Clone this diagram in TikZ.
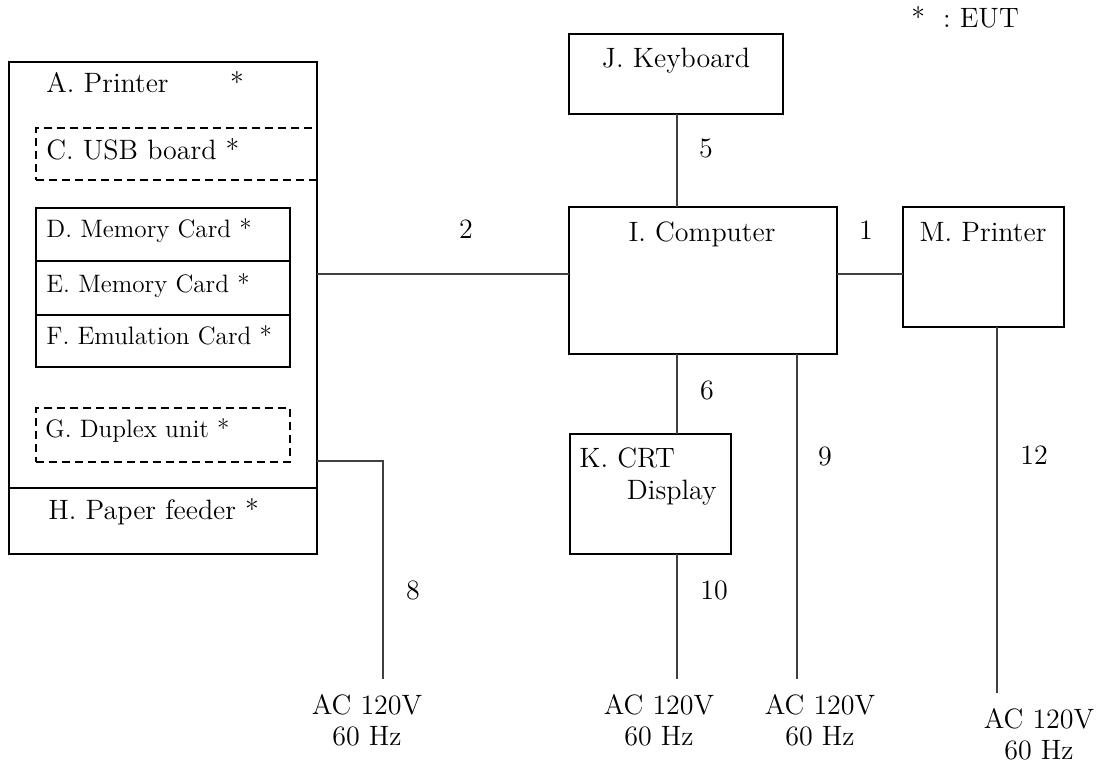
\documentclass[tikz,border=0pt]{standalone}
\begin{document}
\begin{tikzpicture}[x=0.5pt,y=-0.5pt,
  box/.style={draw, line width=1.25pt, inner sep=0pt, outer sep=0pt},
  dbox/.style={draw, line width=1.25pt, dash pattern=on 4pt off 2.5pt, inner sep=0pt, outer sep=0pt},
  txt/.style={inner sep=0pt, font=\fontsize{14}{15.5}\selectfont},
  stxt/.style={inner sep=0pt, font=\fontsize{12.6}{14}\selectfont},
  actxt/.style={inner sep=0pt, align=center, font=\fontsize{14}{15.5}\selectfont},
  wire/.style={line width=0.6pt, black!75}]
\useasboundingbox (0,0) rectangle (1105,763);

% boxes
\node[box, minimum width=154pt, minimum height=213pt] (A) at (163,275) {};
\node[box, minimum width=154pt, minimum height=33pt] (H) at (163,521) {};
\node[dbox, minimum width=140.5pt, minimum height=26pt] (C) at (176.5,154) {};
\node[box, minimum width=127pt, minimum height=26.5pt] (D) at (163,234.5) {};
\node[box, minimum width=127pt, minimum height=27pt] (E) at (163,288) {};
\node[box, minimum width=127pt, minimum height=26pt] (F) at (163,341) {};
\node[dbox, minimum width=127pt, minimum height=27pt] (G) at (163,435) {};
\node[box, minimum width=107pt, minimum height=40pt] (J) at (676,74) {};
\node[box, minimum width=134pt, minimum height=73.5pt] (I) at (703,280.5) {};
\node[box, minimum width=80.5pt, minimum height=60pt] (M) at (983.5,267) {};
\node[box, minimum width=80.5pt, minimum height=60pt] (K) at (650.5,494) {};

% box texts
\node[txt, anchor=base west] (tA) at (46,93) {A. Printer};
\node[txt, anchor=base] (tAs) at (237,93) {*};
\node[txt, anchor=base west] (tC) at (46,160) {C. USB board *};
\node[stxt, anchor=base west] (tD) at (46,238) {D. Memory Card *};
\node[stxt, anchor=base west] (tE) at (46,293) {E. Memory Card *};
\node[stxt, anchor=base west] (tF) at (46,345) {F. Emulation Card *};
\node[stxt, anchor=base west] (tG) at (45,438) {G. Duplex unit *};
\node[txt, anchor=base west] (tH) at (48,520) {H. Paper feeder *};
\node[txt, anchor=base] (tJ) at (676,68) {J. Keyboard};
\node[txt, anchor=base] (tI) at (702,242) {I. Computer};
\node[txt, anchor=base] (tM) at (983,242) {M. Printer};
\node[txt, anchor=base west] (tK1) at (579,468) {K. CRT};
\node[txt, anchor=base east] (tK2) at (717,500) {Display};
\node[txt, anchor=base west] (eut) at (911,28) {*\hspace{9pt}:\ EUT};

% wires
\coordinate (y1) at (0,274);
\draw[wire] (A.east |- y1) -- (I.west |- y1);
\draw[wire] (I.east |- y1) -- (M.west |- y1);
\coordinate (x5) at (677,0);
\draw[wire] (J.south -| x5) -- (I.north -| x5);
\draw[wire] (I.south -| x5) -- (K.north -| x5);
\coordinate (p10) at (677,679);
\draw[wire] (K.south -| p10) -- (p10);
\coordinate (p9) at (797,679);
\draw[wire] (I.south -| p9) -- (p9);
\coordinate (p12) at (997,693);
\draw[wire] (M.south -| p12) -- (p12);
\coordinate (c8) at (383,461);
\coordinate (p8) at (383,679);
\draw[wire] (A.east |- c8) -- (c8) -- (p8);

% wire numbers
\node[txt, anchor=base] (n2) at (466,239) {2};
\node[txt, anchor=base] (n1) at (866,240) {1};
\node[txt, anchor=base] (n5) at (706,158) {5};
\node[txt, anchor=base] (n6) at (707,400) {6};
\node[txt, anchor=base] (n9) at (825,466) {9};
\node[txt, anchor=base] (n12) at (1034,465) {12};
\node[txt, anchor=base] (n10) at (714,600) {10};
\node[txt, anchor=base] (n8) at (413,600) {8};

% mains labels
\node[actxt, anchor=north] (ac8) at (367,694) {AC 120V\\60 Hz};
\node[actxt, anchor=north] (ac10) at (659,694) {AC 120V\\60 Hz};
\node[actxt, anchor=north] (ac9) at (820,694) {AC 120V\\60 Hz};
\node[actxt, anchor=north] (ac12) at (1039,708) {AC 120V\\60 Hz};
\end{tikzpicture}
\end{document}
